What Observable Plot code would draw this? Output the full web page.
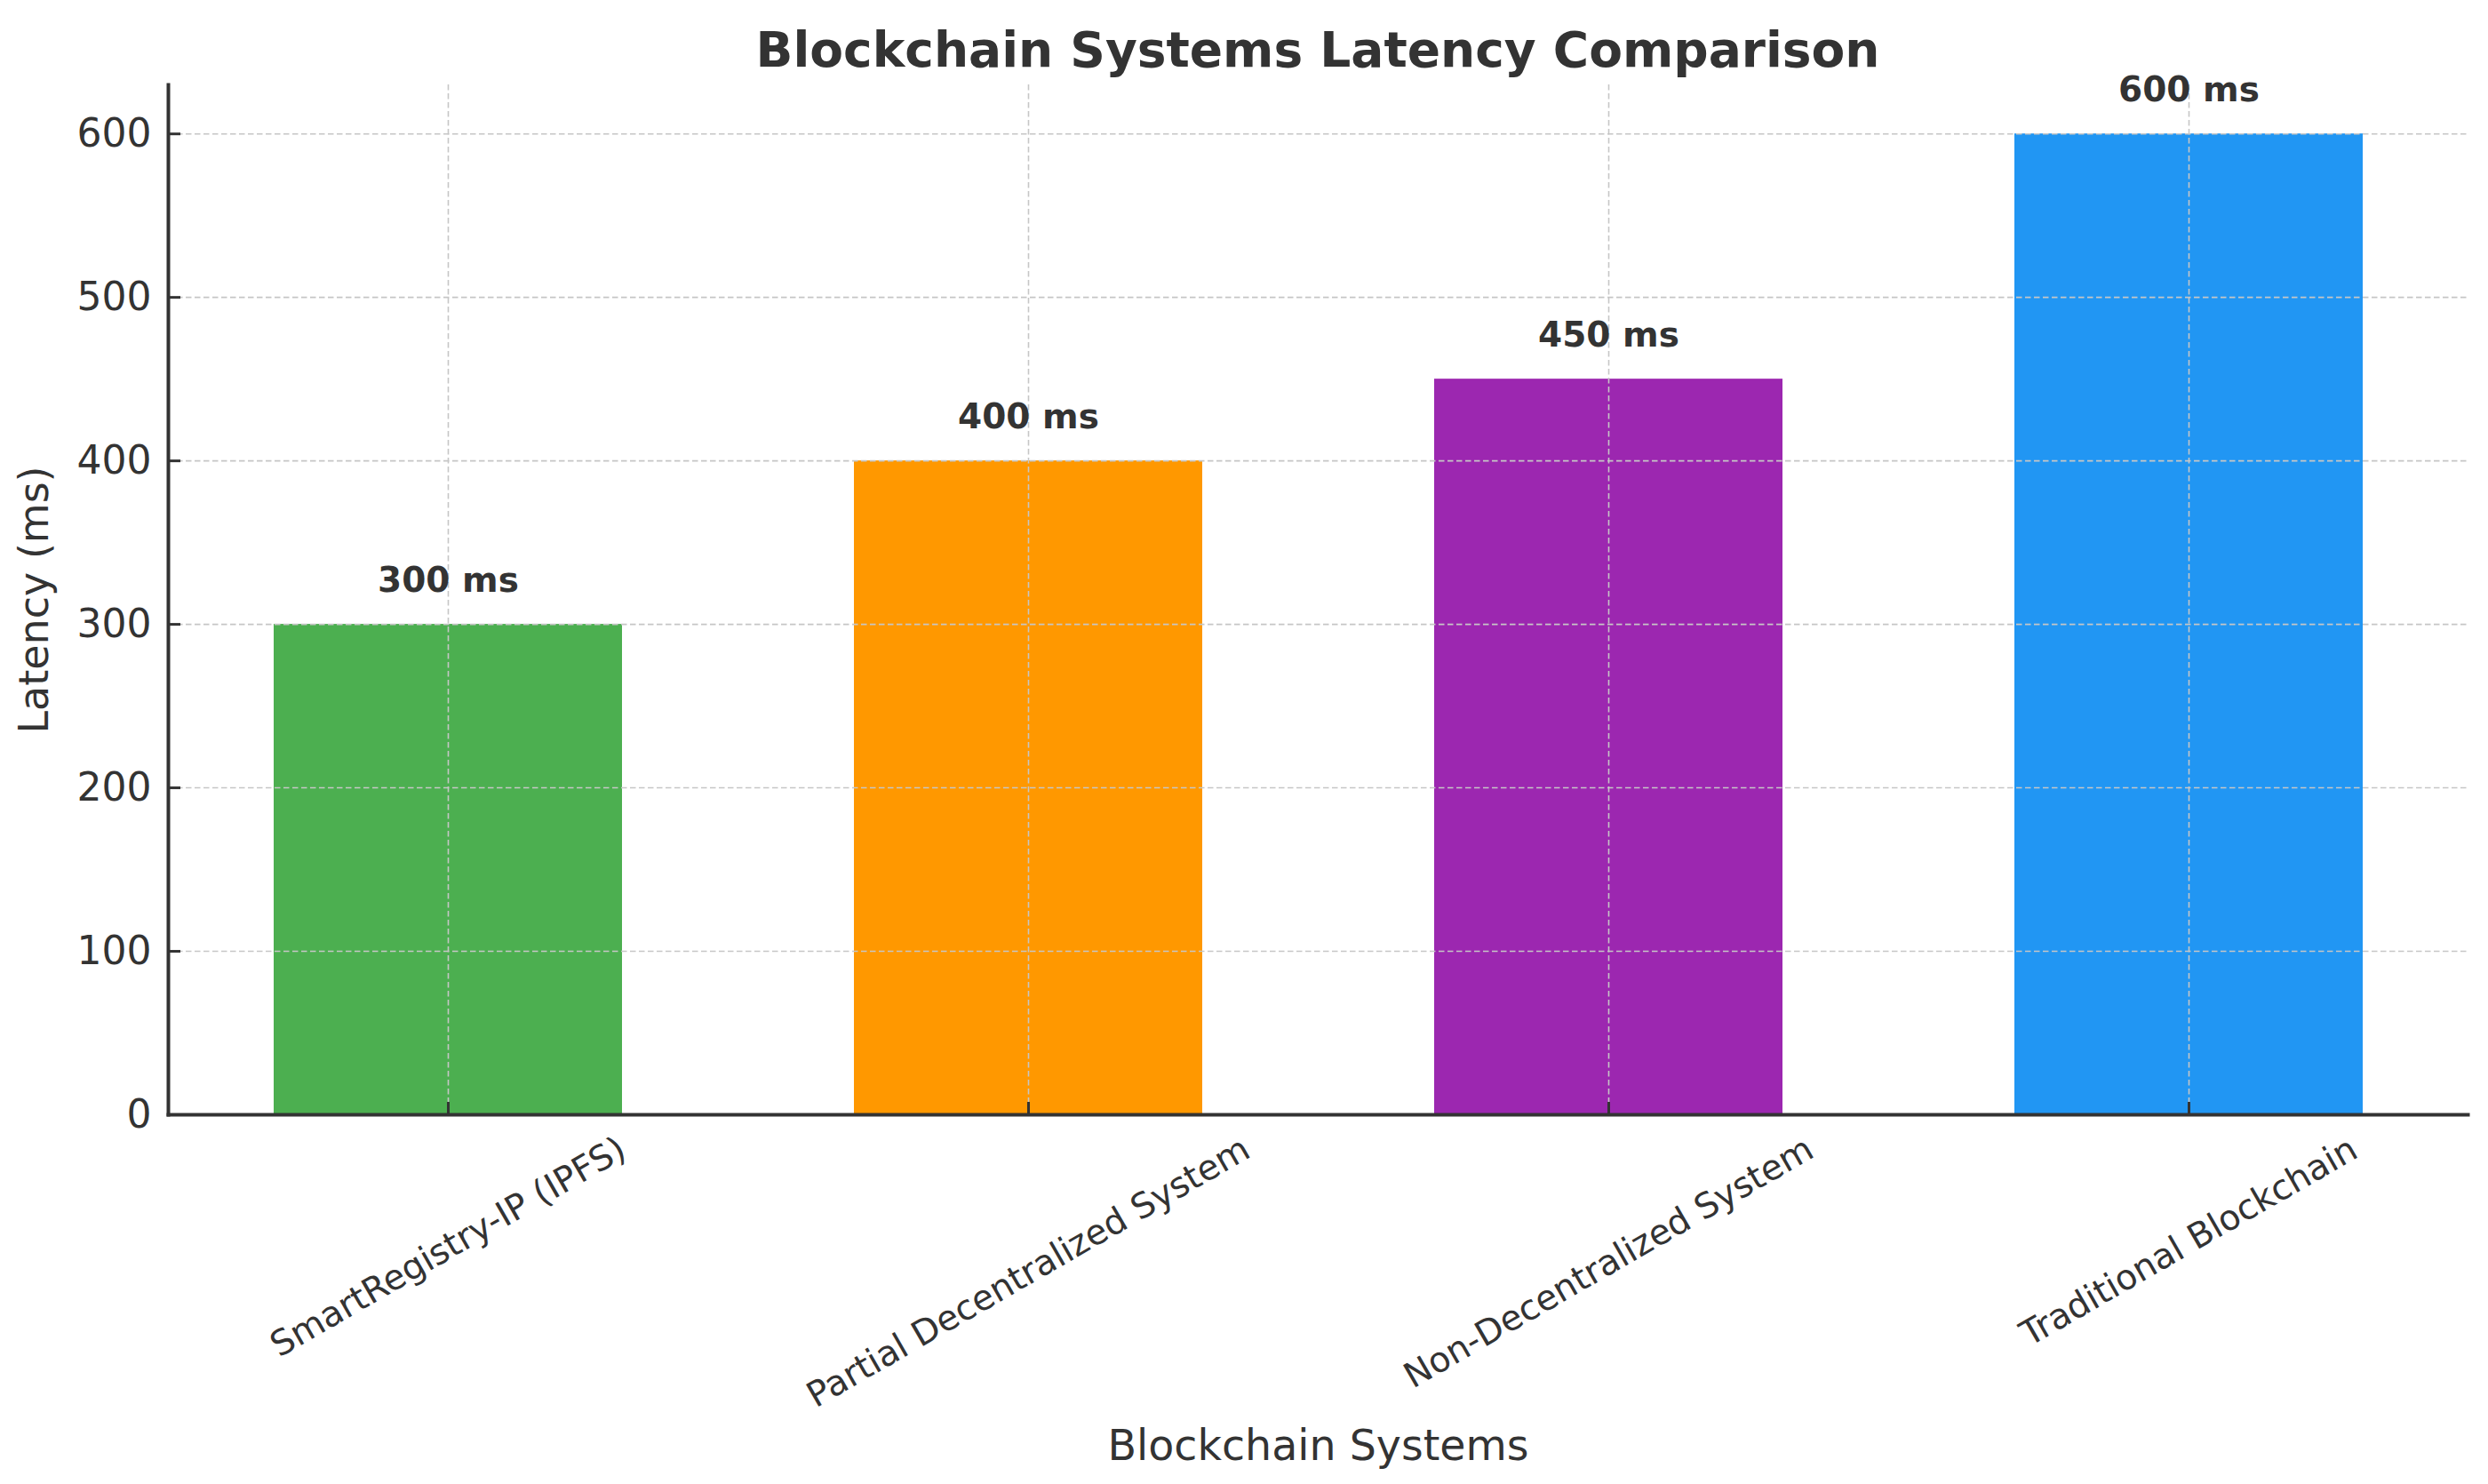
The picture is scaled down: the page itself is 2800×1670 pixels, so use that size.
<!DOCTYPE html>
<html>
<head>
<meta charset="utf-8">
<script src="https://cdn.jsdelivr.net/npm/d3@7"></script>
<script src="https://cdn.jsdelivr.net/npm/@observablehq/plot@0.6"></script>
<style>
html, body { margin: 0; padding: 0; background: #fff; }
#title {
  box-sizing: border-box; height: 75px; margin-left: 189px; width: 2588px;
  padding-top: 29px; font: bold 55px "DejaVu Sans"; line-height: 55px;
  text-align: center; color: #333; white-space: nowrap; position: relative; z-index: 1;
}
#chart svg { display: block; }
</style>
</head>
<body>
<div id="title">Blockchain Systems Latency Comparison</div>
<div id="chart"></div>
<script>
const categories = ["SmartRegistry-IP (IPFS)", "Partial Decentralized System", "Non-Decentralized System", "Traditional Blockchain"];
const latency = [300, 400, 450, 600];
const colors = ["#4CAF50", "#FF9800", "#9C27B0", "#2196F3"];
const yTicks = [0, 100, 200, 300, 400, 500, 600];
const yLabel = "Latency (ms)";
const xLabel = "Blockchain Systems";

const W = 2800, H = 1595, mL = 189, mR = 23, mT = 20, mB = 416;
const plotW = W - mL - mR, plotH = H - mT - mB;
const ink = "#333333";
const gridStyle = {stroke: "#c6c6c6", strokeWidth: 1.6, strokeDasharray: "6.5,3.5"};

const data = categories.map((c, i) => ({system: c, latency: latency[i]}));

const xTickFont = 39.3;
const ctx = document.createElement("canvas").getContext("2d");
ctx.font = `${xTickFont}px "DejaVu Sans"`;
const xTickLabels = categories.map(c => {
  const L = ctx.measureText(c).width;
  const off = 20 + (L * 0.5 + 36 * 0.866) / 2;
  return Plot.text([c], {x: d => d, frameAnchor: "bottom", rotate: -30, textAnchor: "middle",
    lineAnchor: "middle", dy: off, fontSize: xTickFont, fill: ink});
});

const chart = Plot.plot({
  width: W, height: H,
  marginLeft: mL, marginRight: mR, marginTop: mT, marginBottom: mB,
  style: {fontFamily: '"DejaVu Sans"', background: "transparent", color: ink, overflow: "visible"},
  x: {type: "band", domain: categories, paddingInner: 0.4, paddingOuter: 0.18, axis: null},
  y: {domain: [0, 630]},
  color: {domain: categories, range: colors},
  marks: [
    Plot.barY(data, {x: "system", y: "latency", fill: "system"}),
    Plot.ruleY(yTicks, gridStyle),
    Plot.ruleX(categories, gridStyle),
    Plot.ruleY(yTicks, {stroke: ink, strokeWidth: 3, insetRight: plotW - 14}),
    Plot.ruleX(categories, {stroke: ink, strokeWidth: 3, insetTop: plotH - 14}),
    Plot.frame({anchor: "left", stroke: ink, strokeWidth: 4}),
    Plot.frame({anchor: "bottom", stroke: ink, strokeWidth: 4}),
    Plot.axisY(yTicks, {tickSize: 0, tickPadding: 19, fontSize: 44, fill: ink, label: null}),
    Plot.text(data, {x: "system", y: "latency", text: d => `${d.latency} ms`, dy: -37,
      lineAnchor: "bottom", fontWeight: "bold", fontSize: 39, fill: ink}),
    ...xTickLabels,
    Plot.text([yLabel], {frameAnchor: "left", rotate: -90, dx: -150, textAnchor: "middle",
      lineAnchor: "middle", fontSize: 46, fill: ink}),
    Plot.text([xLabel], {frameAnchor: "bottom", dy: 388, lineAnchor: "bottom",
      textAnchor: "middle", fontSize: 47.5, fill: ink})
  ]
});
document.getElementById("chart").appendChild(chart);
</script>
</body>
</html>
